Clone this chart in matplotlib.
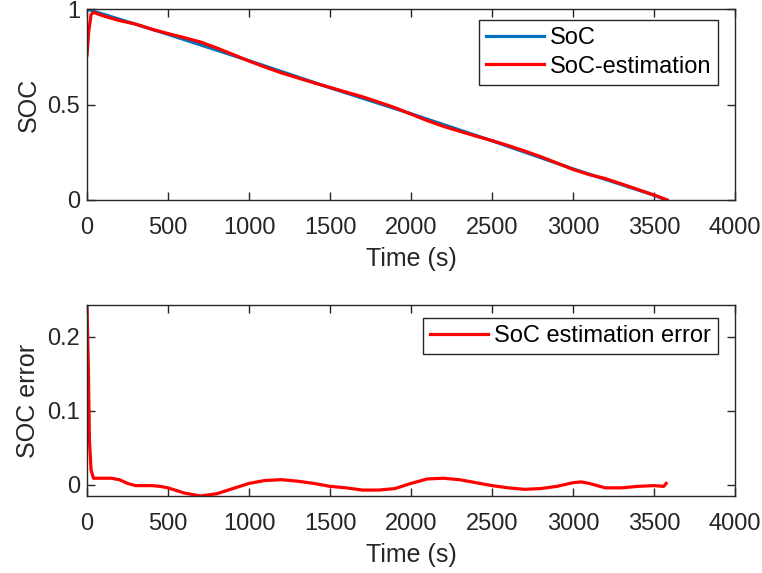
import numpy as np
import matplotlib.pyplot as plt

plt.rcParams['font.family'] = ['Liberation Sans', 'DejaVu Sans']

# true state of charge
t_soc = [0, 500, 1000, 1500, 2000, 2500, 3000, 3500, 3580]
soc = [1.0, 0.868, 0.73, 0.588, 0.452, 0.31, 0.163, 0.025, 0.0]

# estimated state of charge
t_est = [0, 10, 25, 40, 100, 200, 300, 400, 500, 600, 700, 800, 900, 1000,
         1100, 1200, 1300, 1400, 1500, 1600, 1700, 1800, 1900, 2000, 2100,
         2200, 2300, 2400, 2500, 2600, 2700, 2800, 2900, 3000, 3100, 3200,
         3300, 3400, 3500, 3580]
soc_est = [0.76, 0.88, 0.972, 0.983, 0.965, 0.940, 0.922, 0.895, 0.872,
           0.851, 0.828, 0.797, 0.763, 0.728, 0.696, 0.666, 0.640, 0.614,
           0.590, 0.565, 0.541, 0.513, 0.484, 0.450, 0.416, 0.386, 0.360,
           0.335, 0.311, 0.285, 0.257, 0.227, 0.194, 0.160, 0.133, 0.112,
           0.084, 0.055, 0.026, 0.0]

# estimation error
t_err = [0, 8, 15, 25, 40, 100, 150, 200, 250, 300, 400, 450, 500, 600, 700,
         800, 900, 1000, 1100, 1200, 1300, 1400, 1500, 1600, 1700, 1800, 1900,
         2000, 2100, 2200, 2300, 2400, 2500, 2600, 2700, 2800, 2900, 3000,
         3050, 3100, 3200, 3300, 3400, 3500, 3560, 3575]
err = [0.24, 0.16, 0.06, 0.02, 0.009, 0.009, 0.009, 0.007, 0.002, -0.001,
       -0.001, -0.002, -0.004, -0.011, -0.015, -0.012, -0.005, 0.002, 0.006,
       0.007, 0.005, 0.002, -0.002, -0.004, -0.007, -0.007, -0.005, 0.002,
       0.008, 0.009, 0.007, 0.003, -0.001, -0.004, -0.006, -0.005, -0.002,
       0.003, 0.004, 0.002, -0.004, -0.004, -0.002, -0.001, -0.002, 0.002]

xticks = [0, 500, 1000, 1500, 2000, 2500, 3000, 3500, 4000]
fs_tick = 17
fs_lab = 18
fs_leg = 17
edge = '#262626'

fig = plt.figure(figsize=(7.62, 5.73), dpi=100)
ax1 = fig.add_axes([0.1142, 0.651, 0.8504, 0.333])
ax2 = fig.add_axes([0.1142, 0.1344, 0.8504, 0.3333])

def style(ax):
    for s in ax.spines.values():
        s.set_color(edge)
        s.set_linewidth(1.0)
    ax.tick_params(direction='in', top=True, right=True, length=6,
                   width=1.0, colors=edge, labelsize=fs_tick,
                   labelcolor=edge, pad=5)
    ax.tick_params(axis='x', pad=12)
    ax.set_xlim(0, 4000)
    ax.set_xticks(xticks)
    ax.set_xlabel('Time (s)', fontsize=fs_lab, color=edge, labelpad=6)

ax1.plot(t_soc, soc, color='#0072BD', lw=2.3, label='SoC')
ax1.plot(t_est, soc_est, color='red', lw=2.3, label='SoC-estimation')
ax1.set_ylim(0, 1)
ax1.set_yticks([0, 0.5, 1])
ax1.set_yticklabels(['0', '0.5', '1'])
ax1.set_ylabel('SOC', fontsize=fs_lab, color=edge, labelpad=5)
style(ax1)
leg1 = ax1.legend(loc='upper right', bbox_to_anchor=(1 - 17 / 648, 1 - 11 / 191),
                  fontsize=fs_leg, fancybox=False, framealpha=1,
                  edgecolor=edge, handlelength=2.45, borderaxespad=0,
                  labelspacing=0.27, borderpad=0.3, handletextpad=0.25)
leg1.get_frame().set_linewidth(1.0)

ax2.plot(t_err, err, color='red', lw=2.3, label='SoC estimation error')
ax2.set_ylim(-0.015, 0.243)
ax2.set_yticks([0, 0.1, 0.2])
ax2.set_yticklabels(['0', '0.1', '0.2'])
ax2.set_ylabel('SOC error', fontsize=fs_lab, color=edge, labelpad=5)
style(ax2)
leg2 = ax2.legend(loc='upper right', bbox_to_anchor=(1 - 17 / 648, 1 - 13 / 191),
                  fontsize=fs_leg, fancybox=False, framealpha=1,
                  edgecolor=edge, handlelength=2.45, borderaxespad=0,
                  borderpad=0.3, handletextpad=0.25)
leg2.get_frame().set_linewidth(1.0)

fig.savefig('out.png', dpi=100)
